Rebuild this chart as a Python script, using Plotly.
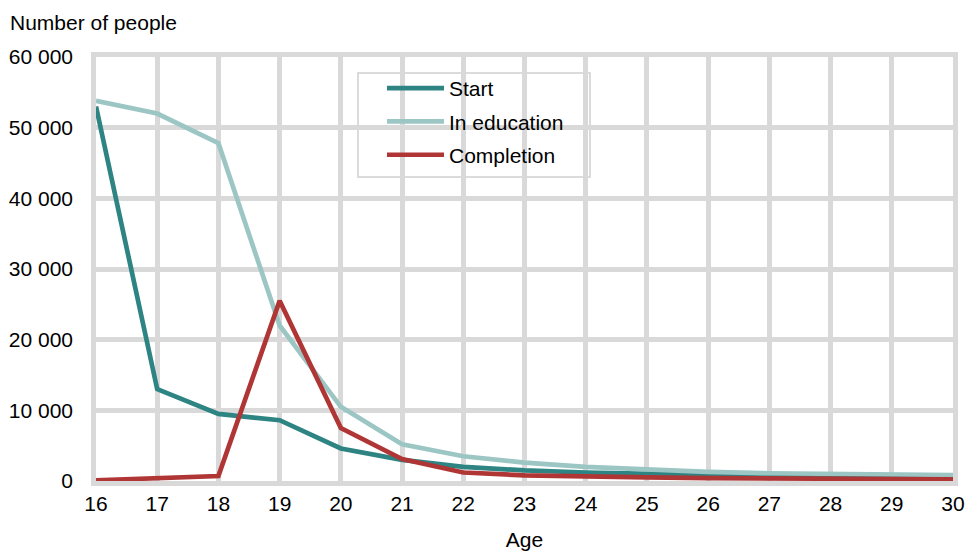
import plotly.graph_objects as go

ages = list(range(16, 31))
start = [53000, 13000, 9500, 8600, 4600, 3000, 2000, 1500, 1200, 1000, 850, 700, 600, 550, 500]
in_education = [53800, 52000, 47800, 22000, 10500, 5200, 3500, 2600, 2000, 1600, 1300, 1100, 1000, 900, 850]
completion = [100, 400, 700, 25500, 7500, 3100, 1200, 800, 600, 500, 400, 350, 300, 250, 250]

series_names = ["Start", "In education", "Completion"]
series_values = [start, in_education, completion]
series_colors = ["#2e8482", "#9cc6c4", "#b03535"]

GRID = "#d9d9d9"
FONT = "Liberation Sans, Arial, sans-serif"
FS = 21

# plot-area geometry in pixels
W, H = 967, 551
L, R, T, B = 96, 14, 57, 70
PW, PH = W - L - R, H - T - B


def px_x(p):
    return (p - L) / PW


def px_y(p):
    return (H - B - p) / PH


fig = go.Figure()
for i, (name, vals, col) in enumerate(zip(series_names, series_values, series_colors)):
    fig.add_trace(go.Scatter(
        x=ages, y=vals, name=name, mode="lines",
        line=dict(color=col, width=4.7),
        legendgroup=f"g{i}",
    ))

fig.update_layout(
    width=W, height=H,
    margin=dict(l=L, r=R, t=T, b=B),
    paper_bgcolor="white", plot_bgcolor="white",
    font=dict(family=FONT, size=FS, color="#000000"),
    separators=". ",
    showlegend=True,
    legend=dict(
        x=px_x(382), y=px_y(68), xanchor="left", yanchor="top",
        bgcolor="rgba(0,0,0,0)", borderwidth=0,
        font=dict(family=FONT, size=FS, color="#000000"),
        itemwidth=57, tracegroupgap=3,
    ),
    xaxis=dict(
        range=[16, 30], tickmode="array", tickvals=ages,
        ticktext=[str(a) for a in ages],
        showgrid=True, gridcolor=GRID, gridwidth=4.5,
        showline=True, linecolor=GRID, linewidth=4.5, mirror=True,
        zeroline=False, ticks="", automargin=False,
        title=dict(text="Age", standoff=20, font=dict(size=FS)),
        tickfont=dict(size=FS),
    ),
    yaxis=dict(
        range=[0, 60000], tickmode="array",
        tickvals=[0, 10000, 20000, 30000, 40000, 50000, 60000],
        tickformat=",d",
        showgrid=True, gridcolor=GRID, gridwidth=4.5,
        showline=True, linecolor=GRID, linewidth=4.5, mirror=True,
        zeroline=False, ticks="", ticklabelstandoff=14, automargin=False,
        tickfont=dict(size=FS),
    ),
    shapes=[dict(
        type="rect", xref="paper", yref="paper", layer="below",
        x0=px_x(358), x1=px_x(590), y0=px_y(177), y1=px_y(73),
        fillcolor="white", line=dict(color="#d0d0d0", width=1.5),
    )],
    annotations=[dict(
        text="Number of people", xref="paper", yref="paper",
        x=px_x(8), y=px_y(22), xanchor="left", yanchor="middle",
        showarrow=False, font=dict(family=FONT, size=FS),
    )],
)

fig.write_html("out.html")
